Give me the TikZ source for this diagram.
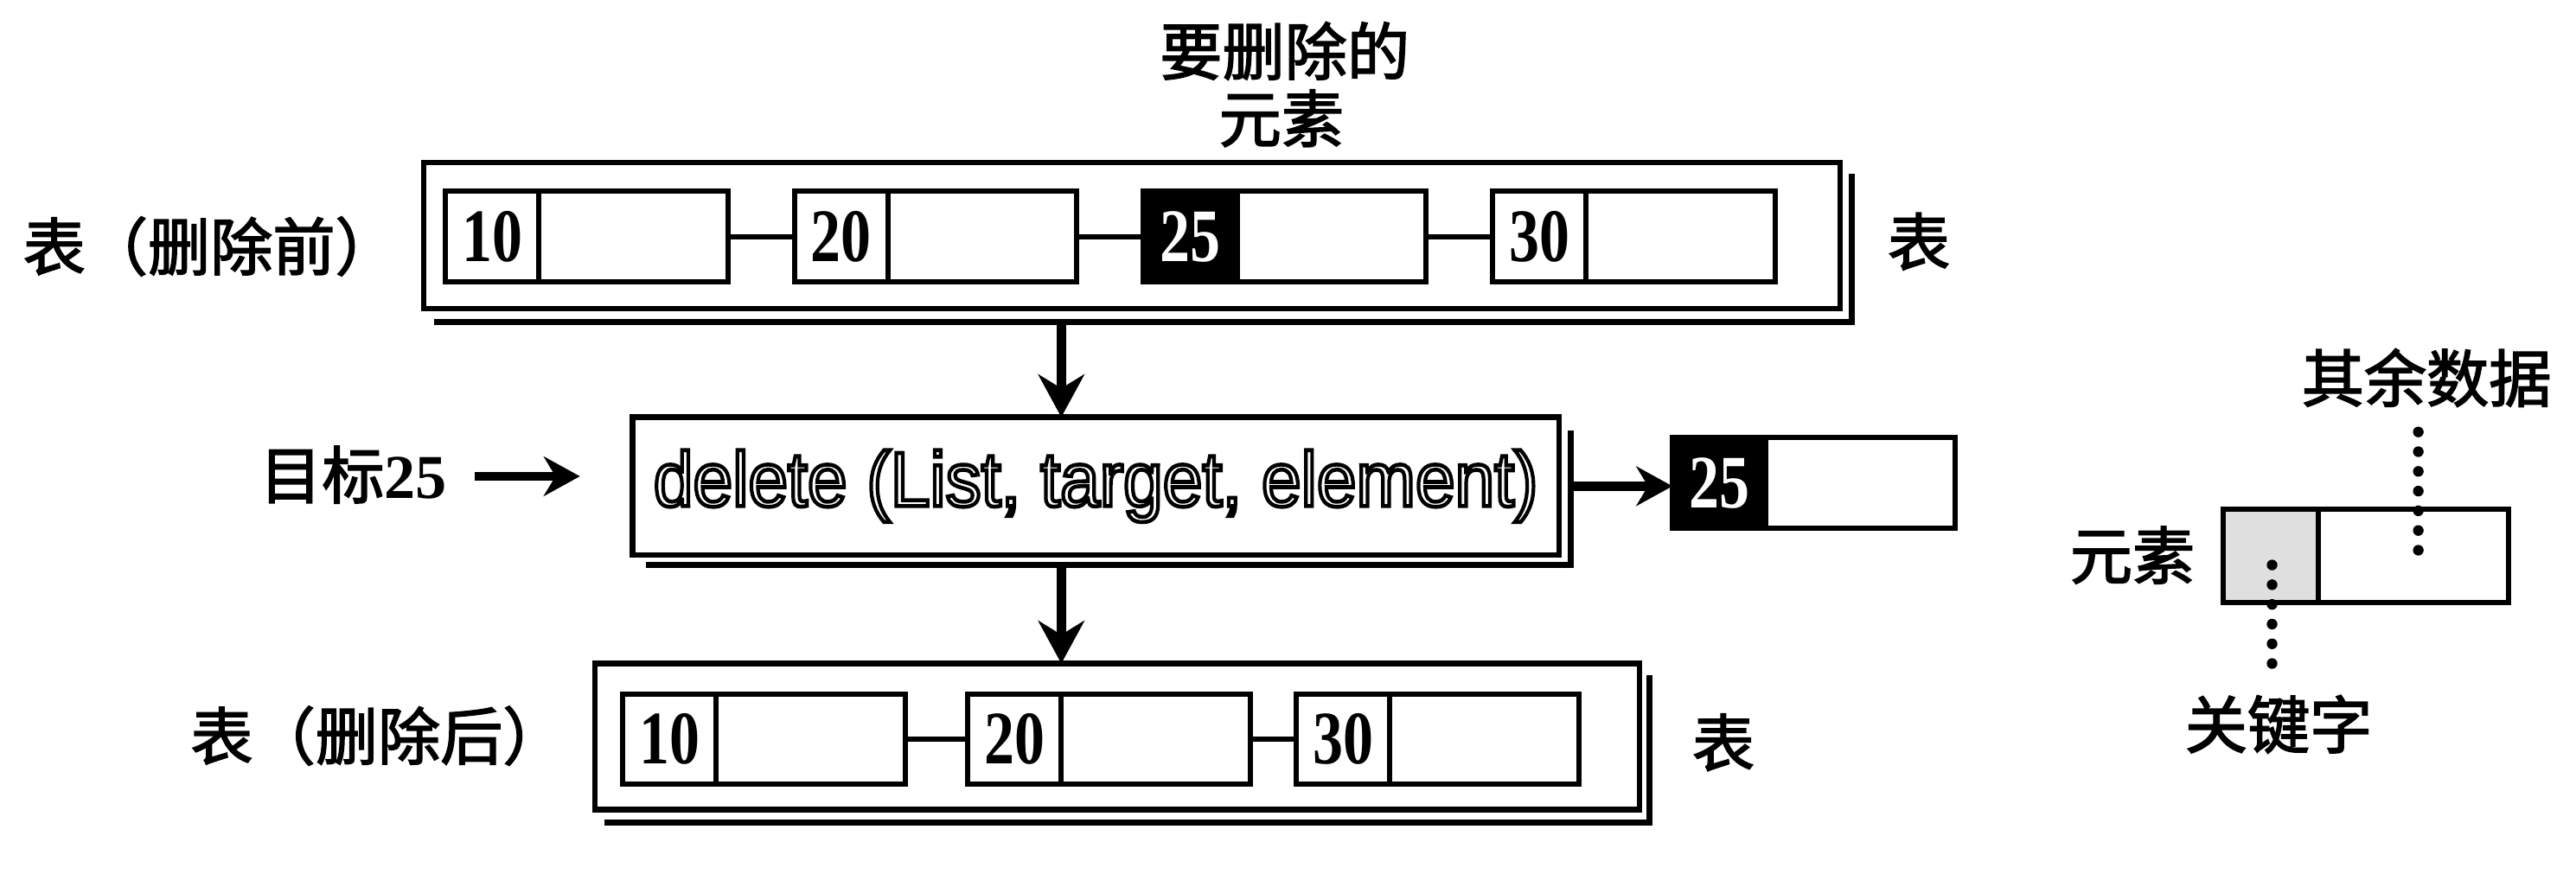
\documentclass[tikz,border=0pt]{standalone}
\usepackage{fontspec}
\setmainfont{Liberation Serif}
\setsansfont{Liberation Sans}
\newfontfamily\cjk[FakeBold=2.2]{Noto Sans CJK SC}
\usetikzlibrary{arrows.meta,calc}
\newcommand\outlinetxt[1]{\textcolor{white}{\special{pdf:literal direct 2 Tr 2.4 w 0 G}#1\special{pdf:literal direct 0 Tr}}}
\newcommand\kn[1]{\scalebox{0.8}[1]{#1}}
\tikzset{
 cell/.style={draw, line width=3.2pt, inner sep=0pt, outer sep=0pt, minimum height=55pt, anchor=west},
 keycell/.style={cell, minimum width=57pt, font=\bfseries\fontsize{46}{46}\selectfont},
 datacell/.style={cell, minimum width=115pt},
 hotkey/.style={keycell, fill=black, text=white},
 link/.style={line width=3.2pt},
 frame/.style={draw, line width=3.4pt, inner sep=0pt, outer sep=0pt, fill=white},
 shadowline/.style={line width=3.6pt},
 bigarrow/.style={line width=5.5pt, -{Stealth[length=26pt,width=28pt]}},
 sidearrow/.style={line width=5.5pt, -{Stealth[length=22pt,width=24pt]}},
 lbl/.style={font=\cjk\fontsize{38}{40}\selectfont, inner sep=0pt},
 dots/.style={line width=6.5pt, line cap=round, dash pattern=on 0pt off 12pt},
}
\begin{document}
\begin{tikzpicture}[x=1pt,y=-1pt]
\useasboundingbox[fill=white] (0,0) rectangle (1568,532);

% title
\node[lbl] (title1) at (782,31) {要删除的};
\node[lbl] (title2) at (780,72) {元素};

% ---------- table before ----------
\node[frame, minimum width=862pt, minimum height=89pt] (topbox) at (689,143.5) {};
\draw[shadowline] ($(topbox.south west)+(6,8)$) -- ($(topbox.south east)+(7,8)$) -- ($(topbox.north east)+(7,7)$);
\node[keycell] (a1k) at (271,144) {\kn{10}};
\node[datacell] (a1d) at (a1k.east) {};
\node[keycell] (a2k) at (483.5,144) {\kn{20}};
\node[datacell] (a2d) at (a2k.east) {};
\node[hotkey] (a3k) at (696,144) {\kn{25}};
\node[datacell] (a3d) at (a3k.east) {};
\node[keycell] (a4k) at (908.5,144) {\kn{30}};
\node[datacell] (a4d) at (a4k.east) {};
\draw[link] (a1d.east) -- (a2k.west);
\draw[link] (a2d.east) -- (a3k.west);
\draw[link] (a3d.east) -- (a4k.west);
\node[lbl] (before) at (128,150) {表（删除前）};
\node[lbl] (tab1) at (1168,147) {表};

% ---------- delete operation ----------
\node[frame, minimum width=564pt, minimum height=84pt] (delbox) at (667,296)
  {\sffamily\fontsize{47}{47}\selectfont\scalebox{0.92}[1]{\outlinetxt{delete (List, target, element)}}};
\draw[shadowline] ($(delbox.south west)+(8,6)$) -- ($(delbox.south east)+(7,6)$) -- ($(delbox.north east)+(7,8)$);
\node[lbl] (target) at (215,289) {目标\rmfamily\bfseries 25};
\draw[sidearrow] ($(target.east)+(17,1)$) -- ($(delbox.west)+(-32,-6)$);

\node[hotkey] (rk) at (1018,294) {\kn{25}};
\node[datacell] (rd) at (rk.east) {};
\draw[sidearrow] ($(delbox.east)+(7,0)$) -- (rk.west |- delbox.east);

\coordinate (ax) at (646,0);
\draw[bigarrow] ($(topbox.south -| ax)+(0,8)$) -- (delbox.north -| ax);
\draw[bigarrow] ($(delbox.south -| ax)+(0,6)$) -- ($(ax |- delbox.south)+(0,66)$) coordinate (bottop);

% ---------- table after ----------
\node[frame, minimum width=636pt, minimum height=89pt] (botbox) at (680,448.5) {};
\draw[shadowline] ($(botbox.south west)+(6,8)$) -- ($(botbox.south east)+(6,8)$) -- ($(botbox.north east)+(6,7)$);
\node[keycell] (b1k) at (379,450) {\kn{10}};
\node[datacell] (b1d) at (b1k.east) {};
\node[keycell] (b2k) at (589,450) {\kn{20}};
\node[datacell] (b2d) at (b2k.east) {};
\node[keycell] (b3k) at (789,450) {\kn{30}};
\node[datacell] (b3d) at (b3k.east) {};
\draw[link] (b1d.east) -- (b2k.west);
\draw[link] (b2d.east) -- (b3k.west);
\node[lbl] (after) at (230,448) {表（删除后）};
\node[lbl] (tab2) at (1049,452) {表};

% ---------- legend ----------
\node[keycell, fill=gray!25, minimum height=57pt, minimum width=58pt] (lk) at (1353,338.5) {};
\node[datacell, minimum height=57pt, minimum width=116pt] (ld) at (lk.east) {};
\node[lbl] (lelem) at (1298,338) {元素};
\node[lbl] (lrest) at (1477,230) {其余数据};
\node[lbl] (lkey) at (1387,441) {关键字};
\coordinate (rtop) at (1472,263);
\coordinate (rbot) at (1472,336);
\draw[dots] (rtop) -- (rbot);
\coordinate (ktop) at (1383,344);
\coordinate (kbot) at (1383,414);
\draw[dots] (ktop) -- (kbot);
\end{tikzpicture}
\end{document}
